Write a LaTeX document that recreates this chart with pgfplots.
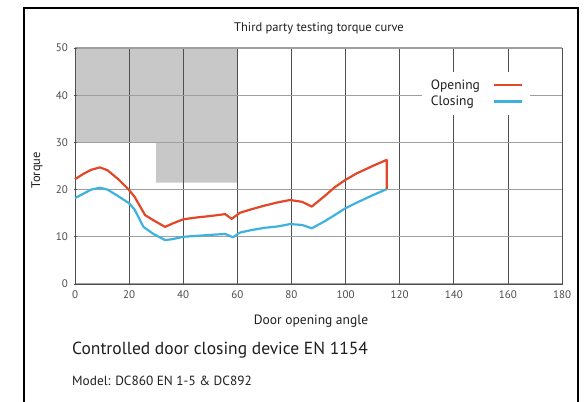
\documentclass[border=0pt]{standalone}
\usepackage{pgfplots}
\pgfplotsset{compat=1.18}
\usepackage{fontspec}
\setmainfont{PT Sans}
\definecolor{openc}{RGB}{228,70,40}
\definecolor{closec}{RGB}{62,178,222}
\definecolor{zone}{RGB}{200,200,200}
\definecolor{gridc}{RGB}{80,80,80}
\definecolor{txt}{RGB}{30,30,30}
\begin{document}
\begin{tikzpicture}
\begin{axis}[
  set layers,
  at={(0pt,0pt)}, anchor=south west,
  scale only axis, width=487pt, height=236pt,
  xmin=0, xmax=180, ymin=0, ymax=50,
  xtick={0,20,...,180}, ytick={0,10,...,50},
  axis lines=left, axis line style={-, gridc, line width=0.8pt},
  grid=major,
  x grid style={gridc, line width=0.7pt},
  y grid style={gray!75, line width=1.1pt},
  tick style={gridc, line width=0.6pt}, major tick length=3pt,
  tick label style={font=\fontsize{11}{12}\selectfont, text=txt!80},
  /pgf/number format/assume math mode=true,
  xticklabel style={yshift=-2pt},
  yticklabel style={xshift=-2pt},
  clip=false,
  legend style={at={(0.712,0.90)}, anchor=north west, fill=white, draw=none,
    font=\fontsize{13.5}{14}\selectfont, inner xsep=7pt, inner ysep=6pt, row sep=1pt,
    column sep=11pt, text=txt},
  legend plot pos=right,
  legend cell align=left,
  legend image code/.code={\draw[#1] (0pt,0pt) -- (28pt,0pt);},
]
\addplot[fill=zone, draw=none, on layer=axis background, forget plot]
  coordinates {(0,30) (0,50) (60,50) (60,21.5) (30,21.5) (30,30) (0,30)};
\addplot[openc, line width=2.2pt, line join=round] coordinates {
(0,22.2) (3,23.3) (6,24.2) (9.2,24.7) (12,24.1) (16,22.2) (19.7,20.1) (22,18.5)
(25.9,14.6) (29,13.5) (33.3,12.1) (36,12.8) (40,13.7) (45,14.1) (50,14.4) (55.5,14.8)
(57.9,13.8) (61,15.1) (65,15.8) (70,16.6) (75,17.3) (79.5,17.8) (84,17.4) (87.5,16.4)
(92,18.5) (96,20.5) (99.8,22.0) (104,23.4) (110,25.0) (115.2,26.3) (115.2,20.1)};
\addlegendentry{Opening}
\addplot[closec, line width=2.2pt, line join=round] coordinates {
(0,18.2) (3,19.1) (6,20.0) (9.2,20.4) (12,20.0) (16,18.6) (20,17.1) (22,15.8)
(25.3,12.1) (29,10.6) (33.3,9.3) (36,9.5) (40,10.0) (45,10.2) (50,10.4) (55.5,10.6)
(58.4,9.9) (61,10.9) (65,11.4) (70,11.9) (75,12.2) (79.5,12.7) (84,12.5) (87.5,11.8)
(92,13.2) (96,14.6) (99.8,16.0) (104,17.2) (110,18.8) (115.2,20.1)};
\addlegendentry{Closing}
\end{axis}
\node[font=\fontsize{12.5}{13}\selectfont, text=txt] at (244pt,256pt) {Third party testing torque curve};
\node[font=\fontsize{12.5}{13}\selectfont, text=txt, rotate=90] at (-38pt,114pt) {Torque};
\node[font=\fontsize{13.5}{14}\selectfont, text=txt] at (236pt,-37pt) {Door opening angle};
\node[font=\fontsize{17.5}{18}\selectfont, text=txt, anchor=west, inner sep=0pt] at (-3pt,-66pt) {Controlled door closing device EN 1154};
\node[font=\fontsize{13.3}{14}\selectfont, text=txt, anchor=west, inner sep=0pt] at (-3pt,-97pt) {Model: DC860 EN 1-5 \& DC892};
\draw[black,line width=1.3pt] (-51pt,-125pt) -- (-51pt,276pt) -- (503pt,276pt) -- (503pt,-125pt);
\pgfresetboundingbox
\useasboundingbox (-75pt,-117pt) rectangle (513pt,284pt);
\end{tikzpicture}
\end{document}
